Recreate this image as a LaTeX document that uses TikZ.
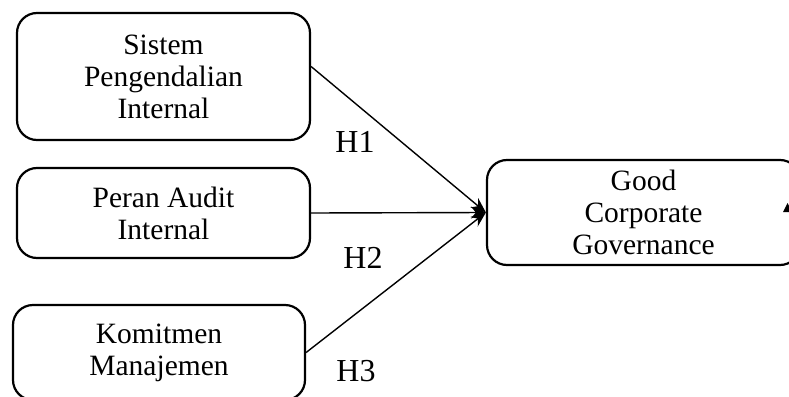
\documentclass[tikz,border=0pt]{standalone}
\usepackage{fontspec}
\setmainfont{Liberation Serif}
\usepackage{tikz}
\usetikzlibrary{positioning,arrows.meta,calc}
\newcommand{\varfont}{\fontsize{29.5}{32}\selectfont}
\newcommand{\hypfont}{\fontsize{32}{34}\selectfont}

\begin{document}
\begin{tikzpicture}[x=1pt,y=-1pt,
      var/.style={draw,line width=2.2pt,rounded corners=20pt,align=center,inner sep=0pt,font=\varfont},
      hyp/.style={font=\hypfont,inner sep=0pt},
      link/.style={line width=1.4pt,-{Stealth[length=15pt,width=12pt,inset=5pt]}}]
    \useasboundingbox (0,0) rectangle (789,396);
    \clip (0,0) rectangle (789,396);
    % variables
    \node[var,minimum width=293pt,minimum height=127pt] (spi) at (163.5,76.5) {Sistem\\Pengendalian\\Internal};
    \node[var,minimum width=293pt,minimum height=90pt] (pai) at (163.5,213) {Peran Audit\\Internal};
    \node[var,minimum width=292pt,minimum height=95pt] (km) at (159,352.5) {Komitmen\\Manajemen};
    \node[var,minimum width=313pt,minimum height=105pt] (gcg) at (643.5,212.5) {Good\\Corporate\\Governance};
    % hypotheses
    \draw[link] ([yshift=10pt]spi.east) -- (gcg.west);
    \draw[link] (pai.east) -- (gcg.west);
    \draw[link] (km.east) -- (gcg.west);
    \node[hyp] (h1) at (355,142) {H1};
    \node[hyp] (h2) at (363,258) {H2};
    \node[hyp] (h3) at (356,371) {H3};
    \fill (783,212) -- (787.5,203) -- (792,212) -- cycle;
  \end{tikzpicture}
\end{document}
